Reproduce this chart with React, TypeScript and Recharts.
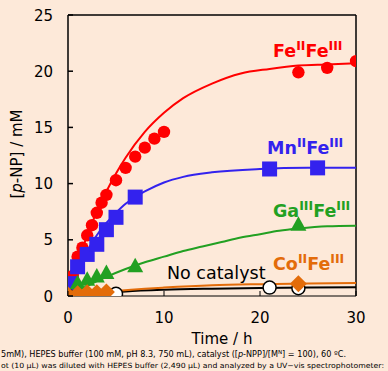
import React from "react";
import {
  ComposedChart,
  Line,
  Scatter,
  XAxis,
  YAxis,
  ReferenceLine,
  Customized,
} from "recharts";

// measured points (time in h, [p-NP] in mM)
const feFePts = [
  { t: 0, v: 0 }, { t: 0.5, v: 1.8 }, { t: 1, v: 3.5 }, { t: 1.5, v: 4.3 },
  { t: 2, v: 5.4 }, { t: 2.5, v: 6.3 }, { t: 3, v: 7.4 }, { t: 3.5, v: 8.3 },
  { t: 4, v: 9.0 }, { t: 5, v: 10.3 }, { t: 6, v: 11.4 }, { t: 7, v: 12.4 },
  { t: 8, v: 13.2 }, { t: 9, v: 14.0 }, { t: 10, v: 14.6 },
  { t: 24, v: 19.9 }, { t: 27, v: 20.3 }, { t: 30, v: 20.9 },
];
const mnFePts = [
  { t: 0, v: 0 }, { t: 0.3, v: 1.1 }, { t: 1, v: 2.6 }, { t: 2, v: 3.7 },
  { t: 3, v: 4.6 }, { t: 4, v: 5.9 }, { t: 5, v: 7.0 }, { t: 7, v: 8.8 },
  { t: 21, v: 11.3 }, { t: 26, v: 11.4 },
];
const gaFePts = [
  { t: 0, v: 0 }, { t: 1, v: 1.1 }, { t: 2, v: 1.4 }, { t: 3, v: 1.7 },
  { t: 4, v: 2.0 }, { t: 7, v: 2.6 }, { t: 24, v: 6.3 },
];
const noCatPts = [
  { t: 0, v: 0 }, { t: 1, v: 0 }, { t: 2, v: 0 }, { t: 3, v: 0 },
  { t: 4, v: 0 }, { t: 5, v: 0.2 }, { t: 21, v: 0.75 }, { t: 24, v: 0.7 },
];
const coFePts = [
  { t: 0, v: 0.1 }, { t: 1, v: 0.2 }, { t: 2, v: 0.3 }, { t: 3, v: 0.3 },
  { t: 4, v: 0.35 }, { t: 24, v: 1.1 },
];

// fitted curves
const feFeCurve = [
  { t: 0, v: 0 }, { t: 1, v: 2.9 }, { t: 2, v: 5.4 }, { t: 3, v: 7.5 },
  { t: 4, v: 9.3 }, { t: 5, v: 10.9 }, { t: 6, v: 12.3 }, { t: 8, v: 14.6 },
  { t: 10, v: 16.3 }, { t: 12, v: 17.6 }, { t: 15, v: 18.9 }, { t: 18, v: 19.8 },
  { t: 21, v: 20.2 }, { t: 24, v: 20.5 }, { t: 27, v: 20.6 }, { t: 30, v: 20.7 },
];
const mnFeCurve = [
  { t: 0, v: 0 }, { t: 1, v: 2.2 }, { t: 2, v: 4.0 }, { t: 3, v: 5.4 },
  { t: 4, v: 6.5 }, { t: 5, v: 7.4 }, { t: 6, v: 8.2 }, { t: 7, v: 8.8 },
  { t: 8, v: 9.3 }, { t: 10, v: 10.1 }, { t: 12, v: 10.6 }, { t: 15, v: 11.0 },
  { t: 20, v: 11.3 }, { t: 25, v: 11.4 }, { t: 30, v: 11.4 },
];
const gaFeCurve = [
  { t: 0, v: 0 }, { t: 2, v: 0.9 }, { t: 4, v: 1.7 }, { t: 6, v: 2.4 },
  { t: 8, v: 3.0 }, { t: 10, v: 3.5 }, { t: 12, v: 4.0 }, { t: 14, v: 4.4 },
  { t: 16, v: 4.8 }, { t: 18, v: 5.2 }, { t: 20, v: 5.5 }, { t: 22, v: 5.8 },
  { t: 24, v: 6.0 }, { t: 27, v: 6.2 }, { t: 30, v: 6.25 },
];
const noCatCurve = [
  { t: 0, v: 0 }, { t: 3, v: 0.2 }, { t: 6, v: 0.4 }, { t: 10, v: 0.55 },
  { t: 15, v: 0.65 }, { t: 20, v: 0.72 }, { t: 25, v: 0.76 }, { t: 30, v: 0.78 },
];
const coFeCurve = [
  { t: 0, v: 0 }, { t: 2, v: 0.2 }, { t: 5, v: 0.45 }, { t: 8, v: 0.65 },
  { t: 10, v: 0.75 }, { t: 15, v: 0.95 }, { t: 20, v: 1.05 }, { t: 25, v: 1.12 },
  { t: 30, v: 1.16 },
];

const xTicks = [0, 10, 20, 30];
const yTicks = [0, 5, 10, 15, 20, 25];

const RED = "#ff0000";
const BLUE = "#3322ee";
const GREEN = "#22a022";
const ORANGE = "#e36c0a";
const BG = "#fde9d9";
const FONT = "'DejaVu Sans', Verdana, sans-serif";

const circle = (p: any) => <circle cx={p.cx} cy={p.cy} r={6.2} fill={RED} />;
const square = (p: any) => (
  <rect x={p.cx - 7.5} y={p.cy - 7.5} width={15} height={15} fill={BLUE} />
);
const triangle = (p: any) => (
  <polygon
    points={`${p.cx},${p.cy - 9} ${p.cx + 8},${p.cy + 5.5} ${p.cx - 8},${p.cy + 5.5}`}
    fill={GREEN}
  />
);
const diamond = (p: any) => (
  <polygon
    points={`${p.cx},${p.cy - 8.5} ${p.cx + 8.5},${p.cy} ${p.cx},${p.cy + 8.5} ${p.cx - 8.5},${p.cy}`}
    fill={ORANGE}
  />
);
const openCircle = (p: any) => (
  <circle cx={p.cx} cy={p.cy} r={6.5} fill="#fff" stroke="#000" strokeWidth={1.5} />
);

const XTick = (p: any) => (
  <g>
    <line x1={p.x} y1={p.y} x2={p.x} y2={p.y - 5} stroke="#000" />
    <text x={p.x} y={p.y + 27} textAnchor="middle" fontSize={15} fontFamily={FONT} fill="#000">
      {p.payload.value}
    </text>
  </g>
);
const YTick = (p: any) => (
  <g>
    <line x1={p.x} y1={p.y} x2={p.x + 5} y2={p.y} stroke="#000" strokeWidth={1.5} />
    <text x={p.x - 15} y={p.y + 5.5} textAnchor="end" fontSize={15} fontFamily={FONT} fill="#000">
      {p.payload.value}
    </text>
  </g>
);

const Sup = ({ children }: { children: string }) => (
  <tspan fontSize={12.5} dy={-7}>{children}</tspan>
);
const Base = ({ children }: { children: string }) => (
  <tspan fontSize={17.5} dy={7}>{children}</tspan>
);

const Annotations = () => (
  <g fontFamily={FONT}>
    <text x={273} y={57} fill={RED} fontWeight="bold" fontSize={17.5}>
      Fe<Sup>II</Sup><Base>Fe</Base><Sup>III</Sup>
    </text>
    <text x={267} y={154} fill={BLUE} fontWeight="bold" fontSize={17.5}>
      Mn<Sup>II</Sup><Base>Fe</Base><Sup>III</Sup>
    </text>
    <text x={273} y={217} fill={GREEN} fontWeight="bold" fontSize={17.5}>
      Ga<Sup>III</Sup><Base>Fe</Base><Sup>III</Sup>
    </text>
    <text x={273} y={270} fill={ORANGE} fontWeight="bold" fontSize={17.5}>
      Co<Sup>II</Sup><Base>Fe</Base><Sup>III</Sup>
    </text>
    <text x={167} y={279} fill="#000" fontSize={17.5}>No catalyst</text>
    <text x={222} y={344} textAnchor="middle" fontSize={15} fill="#000">Time / h</text>
    <text
      transform="translate(22,154) rotate(-90)"
      textAnchor="middle"
      fontSize={15}
      fill="#000"
    >
      [<tspan fontStyle="italic">p</tspan>-NP] / mM
    </text>
    <text x={1} y={357} fontSize={8} fill="#000" textLength={345} lengthAdjust="spacingAndGlyphs">
      5mM), HEPES buffer (100 mM, pH 8.3, 750 mL), catalyst ([<tspan fontStyle="italic">p</tspan>-NPP]/[M
      <tspan fontSize={5.5} dy={-3}>N</tspan>
      <tspan dy={3}>] = 100), 60 ºC.</tspan>
    </text>
    <text x={1} y={367.5} fontSize={7.1} fill="#000" textLength={383} lengthAdjust="spacingAndGlyphs">
      ot (10 μL) was diluted with HEPES buffer (2,490 μL) and analyzed by a UV−vis spectrophotometer:
    </text>
  </g>
);

export default function App() {
  return (
    <div style={{ position: "absolute", left: 0, top: 0, width: 388, height: 371, background: BG }}>
      <ComposedChart
        width={388}
        height={371}
        margin={{ top: 15, right: 32, bottom: 0, left: 0 }}
      >
        <XAxis
          dataKey="t"
          type="number"
          domain={[0, 30]}
          ticks={xTicks}
          height={75}
          tickSize={0}
          tickMargin={0}
          tickLine={false}
          tick={<XTick />}
          axisLine={{ stroke: "#000", strokeWidth: 1 }}
          allowDataOverflow
        />
        <YAxis
          type="number"
          domain={[0, 25]}
          ticks={yTicks}
          width={68}
          tickSize={0}
          tickMargin={0}
          tickLine={false}
          tick={<YTick />}
          axisLine={{ stroke: "#000", strokeWidth: 1.5 }}
          allowDataOverflow
        />
        <ReferenceLine y={25} stroke="#000" strokeWidth={1.5} />
        <ReferenceLine x={30} stroke="#000" strokeWidth={1.5} />

        <Line data={feFeCurve} dataKey="v" type="monotone" stroke={RED} strokeWidth={2} dot={false} isAnimationActive={false} />
        <Scatter data={feFePts} dataKey="v" shape={circle} isAnimationActive={false} />

        <Line data={mnFeCurve} dataKey="v" type="monotone" stroke={BLUE} strokeWidth={2} dot={false} isAnimationActive={false} />
        <Scatter data={mnFePts} dataKey="v" shape={square} isAnimationActive={false} />

        <Line data={gaFeCurve} dataKey="v" type="monotone" stroke={GREEN} strokeWidth={2} dot={false} isAnimationActive={false} />
        <Scatter data={gaFePts} dataKey="v" shape={triangle} isAnimationActive={false} />

        <Line data={noCatCurve} dataKey="v" type="monotone" stroke="#000" strokeWidth={2} dot={false} isAnimationActive={false} />
        <Scatter data={noCatPts} dataKey="v" shape={openCircle} isAnimationActive={false} />

        <Line data={coFeCurve} dataKey="v" type="monotone" stroke={ORANGE} strokeWidth={2} dot={false} isAnimationActive={false} />
        <Scatter data={coFePts} dataKey="v" shape={diamond} isAnimationActive={false} />

        <Customized component={<Annotations />} />
      </ComposedChart>
    </div>
  );
}
